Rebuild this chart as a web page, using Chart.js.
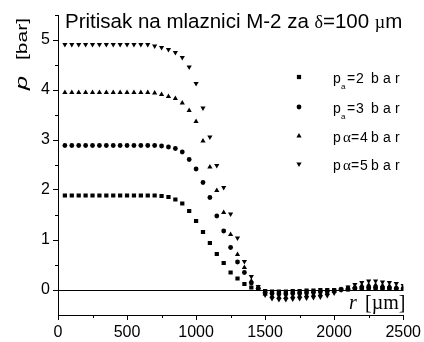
<!DOCTYPE html>
<html><head><meta charset="utf-8">
<script src="https://cdn.jsdelivr.net/npm/chart.js@4"></script>
<style>html,body{margin:0;padding:0;background:#fff}</style>
</head><body>
<canvas id="c" width="424" height="342"></canvas>
<script>
// ---- data ----
const rValues = [50,100,150,200,250,300,350,400,450,500,550,600,650,700,750,800,850,900,950,1000,
  1050,1100,1150,1200,1250,1300,1350,1400,1450,1500,1550,1600,1650,1700,1750,1800,1850,1900,1950,2000,
  2050,2100,2150,2200,2250,2300,2350,2400,2450,2500];
const pa2 = [1.89,1.89,1.89,1.89,1.89,1.89,1.89,1.89,1.89,1.89,1.89,1.89,1.89,
  1.89,1.88,1.86,1.81,1.73,1.58,1.38,1.16,0.94,0.72,0.54,0.35,0.23,0.12,0.05,0.02,-0.02,
  -0.03,-0.03,-0.03,-0.02,-0.02,-0.01,-0.01,0,0,0,0.01,0.01,0.02,0.02,0.02,0.02,0.02,0.02,0.02,0.02];
const pa3 = [2.89,2.89,2.89,2.89,2.89,2.89,2.89,2.89,2.89,2.89,2.89,2.89,2.89,
  2.89,2.88,2.86,2.83,2.76,2.61,2.42,2.15,1.85,1.48,1.18,0.85,0.56,0.35,0.14,0.03,-0.05,
  -0.07,-0.08,-0.08,-0.07,-0.07,-0.06,-0.05,-0.04,-0.03,-0.01,0.01,0.02,0.03,0.04,0.05,0.05,0.04,0.04,0.03,0.03];
const pa4 = [3.95,3.95,3.95,3.95,3.95,3.95,3.95,3.95,3.95,3.95,3.95,3.95,3.95,
  3.94,3.91,3.87,3.83,3.74,3.59,3.37,2.98,2.46,1.99,1.55,1.11,0.71,0.45,0.18,0.05,-0.08,
  -0.12,-0.14,-0.14,-0.13,-0.12,-0.11,-0.10,-0.09,-0.06,-0.03,0.01,0.04,0.07,0.09,0.10,0.10,0.09,0.08,0.06,0.03];
const pa5 = [4.91,4.91,4.91,4.91,4.91,4.91,4.91,4.91,4.91,4.91,4.91,4.91,4.91,
  4.88,4.85,4.81,4.75,4.65,4.46,4.13,3.64,3.06,2.49,2.05,1.52,1.04,0.57,0.27,0.07,-0.10,
  -0.17,-0.19,-0.19,-0.18,-0.17,-0.16,-0.15,-0.14,-0.11,-0.06,0.00,0.06,0.11,0.15,0.18,0.18,0.16,0.15,0.13,0.09];
const xTicks = [0,500,1000,1500,2000,2500];
const yTicks = [0,1,2,3,4,5];
const xMinor = [250,750,1250,1750,2250];
const yMinor = [0.5,1.5,2.5,3.5,4.5,5.5];
const titleParts = ["Pritisak na mlaznici M-2 za ", "δ", "=100 ", "µ", "m"];
const legendDigits = ["2","3","4","5"];

const SANS = "'Liberation Sans', Arial, sans-serif";
const SERIF = "'Liberation Serif', 'Times New Roman', serif";

const pts = arr => rValues.map((x, i) => ({x: x, y: arr[i]}));
const styles = [
  {pointStyle:'rect', radius:3, rotation:0},
  {pointStyle:'circle', radius:2.4, rotation:0},
  {pointStyle:'triangle', radius:3, rotation:0},
  {pointStyle:'triangle', radius:3, rotation:180}
];
const series = [pa2, pa3, pa4, pa5];
const datasets = series.map((s, i) => ({
  data: pts(s),
  pointStyle: styles[i].pointStyle,
  pointRadius: styles[i].radius,
  pointRotation: styles[i].rotation,
  pointBackgroundColor: '#000',
  pointBorderWidth: 0,
  showLine: false
}));

function drawMarker(ctx, st, x, y) {
  ctx.save();
  ctx.fillStyle = '#000';
  Chart.helpers.drawPoint(ctx, {pointStyle: st.pointStyle, radius: st.radius, rotation: st.rotation, borderWidth: 0}, x, y);
  ctx.restore();
}

const decor = {
  id: 'decor',
  beforeDatasetsDraw(chart) {
    const {ctx, chartArea: a, scales: {y}} = chart;
    const y0 = Math.round(y.getPixelForValue(0)) + 0.5;
    ctx.save();
    ctx.strokeStyle = '#000'; ctx.lineWidth = 1;
    ctx.beginPath(); ctx.moveTo(a.left, y0); ctx.lineTo(a.right, y0); ctx.stroke();
    ctx.restore();
  },
  afterDraw(chart) {
    const {ctx, chartArea: a, scales: {x, y}} = chart;
    ctx.save();
    ctx.strokeStyle = '#000'; ctx.lineWidth = 1;
    ctx.beginPath();
    xMinor.forEach(v => { const px = Math.round(x.getPixelForValue(v)) + 0.5; ctx.moveTo(px, a.bottom); ctx.lineTo(px, a.bottom + 3); });
    yMinor.forEach(v => { const py = Math.round(y.getPixelForValue(v)) + 0.5; ctx.moveTo(a.left - 3, py); ctx.lineTo(a.left, py); });
    ctx.stroke();

    // title
    ctx.fillStyle = '#000';
    ctx.textBaseline = 'alphabetic';
    let tx = 65;
    const tfonts = ["20.5px " + SANS, "18px " + SERIF, "20.5px " + SANS, "18px " + SERIF, "20.5px " + SANS];
    titleParts.forEach((t, i) => { ctx.font = tfonts[i]; ctx.fillText(t, tx, 28); tx += ctx.measureText(t).width; });

    // y axis title (rotated)
    ctx.save();
    ctx.translate(27, 90);
    ctx.rotate(-Math.PI / 2);
    ctx.scale(1.5, 1);
    ctx.font = "italic 17px " + SANS;
    ctx.fillText("p", 0, 0);
    ctx.font = "14px " + SANS;
    ctx.fillText("[bar]", 20, 0);
    ctx.restore();

    // x axis title
    ctx.font = "italic 20px " + SERIF;
    ctx.fillText("r", 349, 309);
    ctx.font = "20px " + SERIF;
    ctx.fillText("[µm]", 365, 309);

    // legend
    const rows = [{m:77, b:83}, {m:107, b:113}, {m:136, b:142}, {m:164, b:170}];
    rows.forEach((r, i) => {
      drawMarker(ctx, styles[i], 299, r.m);
      ctx.font = "14px " + SANS;
      ctx.fillText("p", 333, r.b);
      if (i < 2) {
        ctx.font = "8px " + SANS;
        ctx.fillText("a", 341, r.b + 6);
        ctx.font = "14px " + SANS;
        ctx.fillText("=", 347, r.b);
        ctx.fillText(legendDigits[i], 356, r.b);
      } else {
        ctx.font = "15px " + SERIF;
        ctx.fillText("α", 343, r.b);
        ctx.font = "14px " + SANS;
        ctx.fillText("=", 351, r.b);
        ctx.fillText(legendDigits[i], 360, r.b);
      }
      ctx.fillText("b", 371, r.b);
      ctx.fillText("a", 383, r.b);
      ctx.fillText("r", 395, r.b);
    });
    ctx.restore();
  }
};

new Chart(document.getElementById('c'), {
  type: 'scatter',
  data: {datasets},
  plugins: [decor],
  options: {
    responsive: false,
    animation: false,
    devicePixelRatio: 1,
    layout: {padding: {left: 0, top: 15, right: 16, bottom: 0}},
    plugins: {legend: {display: false}, tooltip: {enabled: false}, title: {display: false}},
    scales: {
      x: {
        type: 'linear', min: 0, max: 2500,
        afterBuildTicks: s => { s.ticks = xTicks.map(v => ({value: v})); },
        afterFit: s => { s.height = 27; },
        grid: {drawOnChartArea: false, tickLength: 5, color: '#000', lineWidth: 1},
        border: {color: '#000', width: 1},
        ticks: {color: '#000', font: {family: SANS, size: 16}, padding: 3, maxRotation: 0, autoSkip: false,
                callback: v => String(v)}
      },
      y: {
        type: 'linear', min: -0.5, max: 5.5,
        afterBuildTicks: s => { s.ticks = yTicks.map(v => ({value: v})); },
        afterFit: s => { s.width = 58; },
        grid: {drawOnChartArea: false, tickLength: 5, color: '#000', lineWidth: 1},
        border: {color: '#000', width: 1},
        ticks: {color: '#000', font: {family: SANS, size: 16}, padding: 3, autoSkip: false,
                callback: v => String(v)}
      }
    }
  }
});
</script>
</body></html>
